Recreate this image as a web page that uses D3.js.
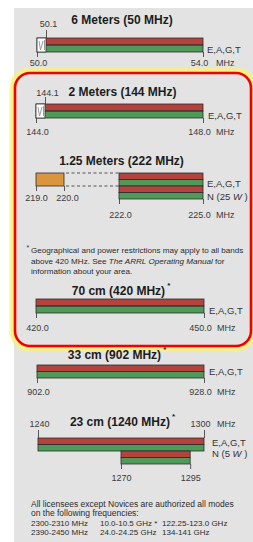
<!DOCTYPE html>
<meta charset="utf-8">
<style>
    body { margin: 0; background: #fff; }
    svg { display: block; font-family: "Liberation Sans", Arial, sans-serif; }
    text { fill: #262626; }
    .title { font-size: 12px; font-weight: bold; fill: #1c1c1c; }
    .axis text { font-size: 9px; fill: #3a3a3a; font-family: "Liberation Sans", Arial, sans-serif; }
    .axis line { stroke: #333; stroke-width: 0.8; }
    .priv { font-size: 9.5px; fill: #333; }
    .unit { font-size: 9px; fill: #3a3a3a; }
    .note { font-size: 8.1px; fill: #2a2a2a; }
    .note.low { font-size: 8.5px; }
    .note.freq { font-size: 8px; }
    rect.red { fill: #b4423d; }
    rect.green { fill: #4f9a58; }
    rect.orange { fill: #d9963f; }
    rect.outline { fill: none; stroke: #2e2e2e; stroke-width: 0.8; }
    line.dash { stroke: #444; stroke-width: 0.9; stroke-dasharray: 3, 2.5; }
</style>
<body>
<script src="https://d3js.org/d3.v7.min.js"></script>
<script>

    // band data (MHz)
    var bandTitles = ["6 Meters (50 MHz)", "2 Meters (144 MHz)", "1.25 Meters (222 MHz)",
                      "70 cm (420 MHz)", "33 cm (902 MHz)", "23 cm (1240 MHz)"];
    var bandStar = [false, false, false, true, true, true];
    var bandLow = [50.0, 144.0, 222.0, 420.0, 902.0, 1240];
    var bandHigh = [54.0, 148.0, 225.0, 450.0, 928.0, 1300];
    var cwTop = [50.1, 144.1, null, null, null, null];
    var extraLow = [null, null, 219.0, null, null, null];
    var extraHigh = [null, null, 220.0, null, null, null];
    var noviceLow = [null, null, 222.0, null, null, 1270];
    var noviceHigh = [null, null, 225.0, null, null, 1295];
    var novicePower = [null, null, "25", null, null, "5"];
    var bandFormat = [".1f", ".1f", ".1f", ".1f", ".1f", "d"];
    var classes = "E,A,G,T";

    var footnote = ["Geographical and power restrictions may apply to all bands",
                    "above 420 MHz. See |The ARRL Operating Manual| for",
                    "information about your area."];
    var allModes = ["All licensees except Novices are authorized all modes",
                    "on the following frequencies:"];
    var microwave = [["2300-2310 MHz", "2390-2450 MHz"],
                     ["10.0-10.5 GHz *", "24.0-24.25 GHz"],
                     ["122.25-123.0 GHz", "134-141 GHz"]];

    // layout of each band block (pixels)
    var layout = [
        {tx: 122, ty: 24, y: 38, h: 7, xs: [37, 46, 203], privX: 4, privY: [53],
         ends: {orient: "bottom", y: 52, size: 5, pad: 2.6}, cw: {size: 8, pad: 3}},
        {tx: 122.5, ty: 96, y: 104, h: 7, xs: [36, 45, 203], privX: 5, privY: [119],
         ends: {orient: "bottom", y: 118, size: 5, pad: 6}, cw: {size: 7, pad: 1}},
        {tx: 121.5, ty: 165, y: 173, h: 6.5, xs: [36, 64, 119, 203], privX: 4, privY: [187, 200],
         ends: {orient: "bottom", y: 199, size: 5, pad: 7.4}, extra: {size: 5, pad: 3.4}},
        {tx: 121, ty: 295, y: 299, h: 7, xs: [36, 204], privX: 5, privY: [314],
         ends: {orient: "bottom", y: 313, size: 5, pad: 6.4}},
        {tx: 117, ty: 359, y: 365, h: 6.5, xs: [37, 204], privX: 5, privY: [375],
         ends: {orient: "bottom", y: 378, size: 5, pad: 5.4}},
        {tx: 122.5, ty: 426, y: 438, h: 6.5, xs: [38, 204], privX: 8, privY: [446, 457],
         ends: {orient: "top", y: 438, size: 8, pad: 3}, nov: {size: 5, pad: 5.4}}
    ];

    var width = 253, height = 542;

    var svg = d3.select("body").append("svg")
            .attr("width", width)
            .attr("height", height);

    svg.append("rect")
            .attr("x", 14).attr("y", 8)
            .attr("width", width - 14).attr("height", height - 8)
            .attr("fill", "#e3e3e4");

    // red highlight round the VHF/UHF novice bands
    svg.append("defs").append("filter")
            .attr("id", "glow")
            .append("feGaussianBlur").attr("stdDeviation", 1.3);

    svg.append("rect")
            .attr("x", 12.5).attr("y", 70.5)
            .attr("width", 241).attr("height", 278).attr("rx", 17)
            .attr("fill", "none").attr("stroke", "#f8f27c").attr("stroke-width", 5)
            .attr("filter", "url(#glow)");

    svg.append("rect")
            .attr("x", 15).attr("y", 73)
            .attr("width", 236).attr("height", 273).attr("rx", 15)
            .attr("fill", "none").attr("stroke", "#f20000").attr("stroke-width", 2.6);

    function pair(g, x, lo, hi, y, h) {
        g.selectAll(null)
                .data([{c: "red", y: y}, {c: "green", y: y + h}])
                .enter().append("rect")
                .attr("class", function(d) { return d.c; })
                .attr("x", x(lo))
                .attr("y", function(d) { return d.y; })
                .attr("width", x(hi) - x(lo))
                .attr("height", h);
        g.selectAll(null)
                .data([y, y + h])
                .enter().append("rect")
                .attr("class", "outline")
                .attr("x", x(lo))
                .attr("y", function(d) { return d; })
                .attr("width", x(hi) - x(lo))
                .attr("height", h);
    }

    function ticks(g, axis, y, values, size, pad, fmt) {
        return g.append("g")
                .attr("class", "axis")
                .attr("transform", "translate(0," + y + ")")
                .call(axis.tickValues(values).tickSize(size).tickSizeOuter(0).tickPadding(pad).tickFormat(fmt))
                .call(function(a) { a.select(".domain").remove(); });
    }

    bandTitles.forEach(function(title, i) {
        var L = layout[i];
        var g = svg.append("g").attr("class", "band");
        var fmt = d3.format(bandFormat[i]);

        var stops = [extraLow[i], extraHigh[i], bandLow[i], cwTop[i], bandHigh[i]]
                .filter(function(v) { return v != null; })
                .sort(d3.ascending);
        var x = d3.scaleLinear().domain(stops).range(L.xs);

        var t = g.append("text")
                .attr("class", "title")
                .attr("x", L.tx).attr("y", L.ty)
                .attr("text-anchor", "middle")
                .text(title);
        if (bandStar[i]) {
            t.append("tspan").attr("dx", 2).attr("dy", -7).style("font-size", "8px").text("*");
        }

        pair(g, x, bandLow[i], bandHigh[i], L.y, L.h);

        // CW only segment at the bottom of the band
        if (cwTop[i] != null) {
            var x0 = x(bandLow[i]), x1 = x(cwTop[i]);
            g.append("rect")
                    .attr("x", x0).attr("y", L.y)
                    .attr("width", x1 - x0).attr("height", 2 * L.h)
                    .attr("fill", "#fff").attr("stroke", "#2e2e2e").attr("stroke-width", 0.8);
            g.append("path")
                    .attr("d", "M" + (x0 + 2) + "," + (L.y + 3) + "L" + (x0 + 3.5) + "," + (L.y + 2 * L.h - 2)
                            + "L" + (x0 + 6) + "," + (L.y + 3) + "M" + (x1 - 1.5) + "," + (L.y + 2)
                            + "V" + (L.y + 2 * L.h - 2))
                    .attr("fill", "none").attr("stroke", "#9a9a9a").attr("stroke-width", 1);
            ticks(g, d3.axisTop(x), L.y, [cwTop[i]], L.cw.size, L.cw.pad, fmt)
                    .selectAll("text").attr("dx", 2);
        }

        // 219-220 segment with dashed guides to the band
        if (extraLow[i] != null) {
            var e0 = x(extraLow[i]), e1 = x(extraHigh[i]);
            g.append("rect")
                    .attr("class", "orange")
                    .attr("x", e0).attr("y", L.y)
                    .attr("width", e1 - e0).attr("height", 2 * L.h);
            g.append("rect")
                    .attr("class", "outline")
                    .attr("x", e0).attr("y", L.y)
                    .attr("width", e1 - e0).attr("height", 2 * L.h);
            g.selectAll(null)
                    .data([L.y, L.y + 2 * L.h])
                    .enter().append("line")
                    .attr("class", "dash")
                    .attr("x1", e1 + 2).attr("x2", x(bandLow[i]))
                    .attr("y1", function(d) { return d; })
                    .attr("y2", function(d) { return d; });
            ticks(g, d3.axisBottom(x), L.y + 2 * L.h, [extraLow[i], extraHigh[i]], L.extra.size, L.extra.pad, fmt)
                    .selectAll("text").attr("dx", function(d, k) { return k ? 3 : 0; });
        }

        // novice sub-band under the main band
        if (noviceLow[i] != null) {
            pair(g, x, noviceLow[i], noviceHigh[i], L.y + 2 * L.h, L.h);
            var nt = g.append("text")
                    .attr("class", "priv")
                    .attr("x", x(bandHigh[i]) + L.privX).attr("y", L.privY[1]);
            nt.append("tspan").text("N (" + novicePower[i] + " ");
            nt.append("tspan").style("font-style", "italic").text("W");
            nt.append("tspan").text(" )");
            if (L.nov) {
                ticks(g, d3.axisBottom(x), L.y + 4 * L.h, [noviceLow[i], noviceHigh[i]], L.nov.size, L.nov.pad, fmt);
            }
        }

        g.append("text")
                .attr("class", "priv")
                .attr("x", x(bandHigh[i]) + L.privX).attr("y", L.privY[0])
                .text(classes);

        // band edges and MHz unit
        var E = L.ends;
        var ax = E.orient === "top" ? d3.axisTop(x) : d3.axisBottom(x);
        ticks(g, ax, E.y, [bandLow[i], bandHigh[i]], E.size, E.pad, fmt)
                .selectAll("text").attr("dx", function(d, k) { return k ? -4 : 1; });
        g.append("text")
                .attr("class", "unit")
                .attr("x", x(bandHigh[i]) + 13)
                .attr("y", E.orient === "top" ? E.y - E.size - E.pad : E.y + E.size + E.pad)
                .attr("dy", E.orient === "top" ? "0em" : "0.71em")
                .text("MHz");
    });

    // footnote inside the highlight
    svg.append("text").attr("class", "note").attr("x", 26.5).attr("y", 250).style("font-size", "7px").text("*");
    footnote.forEach(function(line, k) {
        var t = svg.append("text").attr("class", "note").attr("x", 31).attr("y", 253 + k * 10.5);
        line.split("|").forEach(function(part, j) {
            t.append("tspan").style("font-style", j % 2 ? "italic" : "normal").text(part);
        });
    });

    allModes.forEach(function(line, k) {
        svg.append("text").attr("class", "note low").attr("x", 31).attr("y", 507 + k * 9.3).text(line);
    });

    var colX = [31, 100, 162];
    microwave.forEach(function(col, c) {
        col.forEach(function(s, r) {
            svg.append("text").attr("class", "note freq")
                    .attr("x", colX[c]).attr("y", 526 + r * 9.3)
                    .text(s);
        });
    });

</script>
